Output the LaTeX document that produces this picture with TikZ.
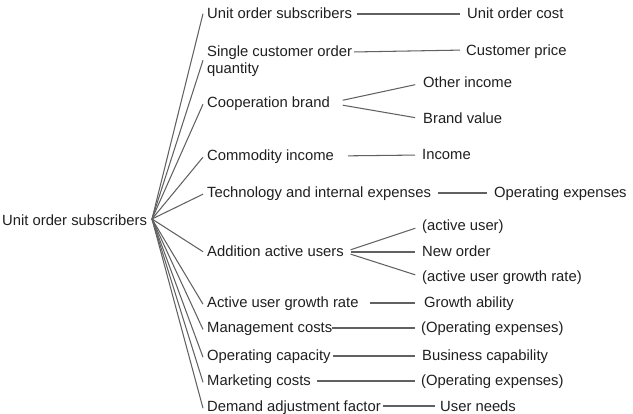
\documentclass[tikz,border=0pt]{standalone}
\usepackage{fontspec}
\setmainfont{Liberation Sans}
\begin{document}
\begin{tikzpicture}[x=1pt,y=-1pt,
  lbl/.style={anchor=base west,inner sep=0pt,font=\fontsize{14.8}{17}\selectfont,text=black!88},
  ln/.style={draw=black!62,line width=1.05pt}]
\useasboundingbox (0,0) rectangle (633,414);
% root
\node[lbl] (root) at (2,226) {Unit order subscribers};
\coordinate (hub) at (152,219);
% level 1
\node[lbl] (u1)    at (207,19)  {Unit order subscribers};
\node[lbl] (s1)    at (207,57)  {Single customer order};
\node[lbl] (s1b)   at (207,74)  {quantity};
\node[lbl] (coop)  at (207,108) {Cooperation brand};
\node[lbl] (comm)  at (207,161) {Commodity income};
\node[lbl] (tech)  at (207,198) {Technology and internal expenses};
\node[lbl] (add)   at (207,257) {Addition active users};
\node[lbl] (agr)   at (207,308) {Active user growth rate};
\node[lbl] (mgmt)  at (207,333) {Management costs};
\node[lbl] (opcap) at (207,361) {Operating capacity};
\node[lbl] (mkt)   at (207,386) {Marketing costs};
\node[lbl] (dem)   at (207,412) {Demand adjustment factor};
% level 2
\node[lbl] (uoc)   at (467,19)  {Unit order cost};
\node[lbl] (cp)    at (466,56)  {Customer price};
\node[lbl] (oi)    at (423,88)  {Other income};
\node[lbl] (bv)    at (423,124) {Brand value};
\node[lbl] (inc)   at (422,160) {Income};
\node[lbl] (opex)  at (494,198) {Operating expenses};
\node[lbl] (au)    at (422,231) {(active user)};
\node[lbl] (no)    at (422,257) {New order};
\node[lbl] (augr)  at (422,282) {(active user growth rate)};
\node[lbl] (ga)    at (424,308) {Growth ability};
\node[lbl] (opex2) at (421,333) {(Operating expenses)};
\node[lbl] (bc)    at (422,361) {Business capability};
\node[lbl] (opex3) at (421,386) {(Operating expenses)};
\node[lbl] (un)    at (440,412) {User needs};
% hub connectors
\foreach \n in {u1,coop,comm,tech,add,agr,mgmt,opcap,mkt,dem}
  \draw[ln] (hub) -- ([xshift=-4pt]\n.west);
\draw[ln] (hub) -- ([xshift=-4pt]s1.south west);
% level-2 connectors
\draw[ln,shorten <=5pt,shorten >=7pt] ([yshift=5pt]u1.base east) -- ([yshift=5pt]uoc.base west);
\draw[ln,shorten <=2pt,shorten >=6pt] ([yshift=5pt]s1.base east) -- ([yshift=6pt]cp.base west);
\draw[ln,shorten <=13pt,shorten >=8pt] ([yshift=5pt]coop.base east) -- ([yshift=5pt]oi.base west);
\draw[ln,shorten <=13pt,shorten >=8pt] ([yshift=5pt]coop.base east) -- ([yshift=5pt]bv.base west);
\draw[ln,shorten <=14pt,shorten >=7pt] ([yshift=5pt]comm.base east) -- ([yshift=5pt]inc.base west);
\draw[ln,shorten <=7pt,shorten >=7pt] ([yshift=5pt]tech.base east) -- ([yshift=5pt]opex.base west);
\draw[ln,shorten <=7pt,shorten >=7pt] ([yshift=5pt]add.base east) -- ([yshift=5pt]au.base west);
\draw[ln,shorten <=7pt,shorten >=7pt] ([yshift=5pt]add.base east) -- ([yshift=5pt]no.base west);
\draw[ln,shorten <=7pt,shorten >=7pt] ([yshift=5pt]add.base east) -- ([yshift=5pt]augr.base west);
\draw[ln,shorten <=11pt,shorten >=9pt] ([yshift=5pt]agr.base east) -- ([yshift=5pt]ga.base west);
\draw[ln,shorten <=0pt,shorten >=6pt] ([yshift=5pt]mgmt.base east) -- ([yshift=5pt]opex2.base west);
\draw[ln,shorten <=2pt,shorten >=7pt] ([yshift=5pt]opcap.base east) -- ([yshift=5pt]bc.base west);
\draw[ln,shorten <=6pt,shorten >=6pt] ([yshift=5pt]mkt.base east) -- ([yshift=5pt]opex3.base west);
\draw[ln,shorten <=2pt,shorten >=5pt] ([yshift=6pt]dem.base east) -- ([yshift=6pt]un.base west);
\end{tikzpicture}
\end{document}
